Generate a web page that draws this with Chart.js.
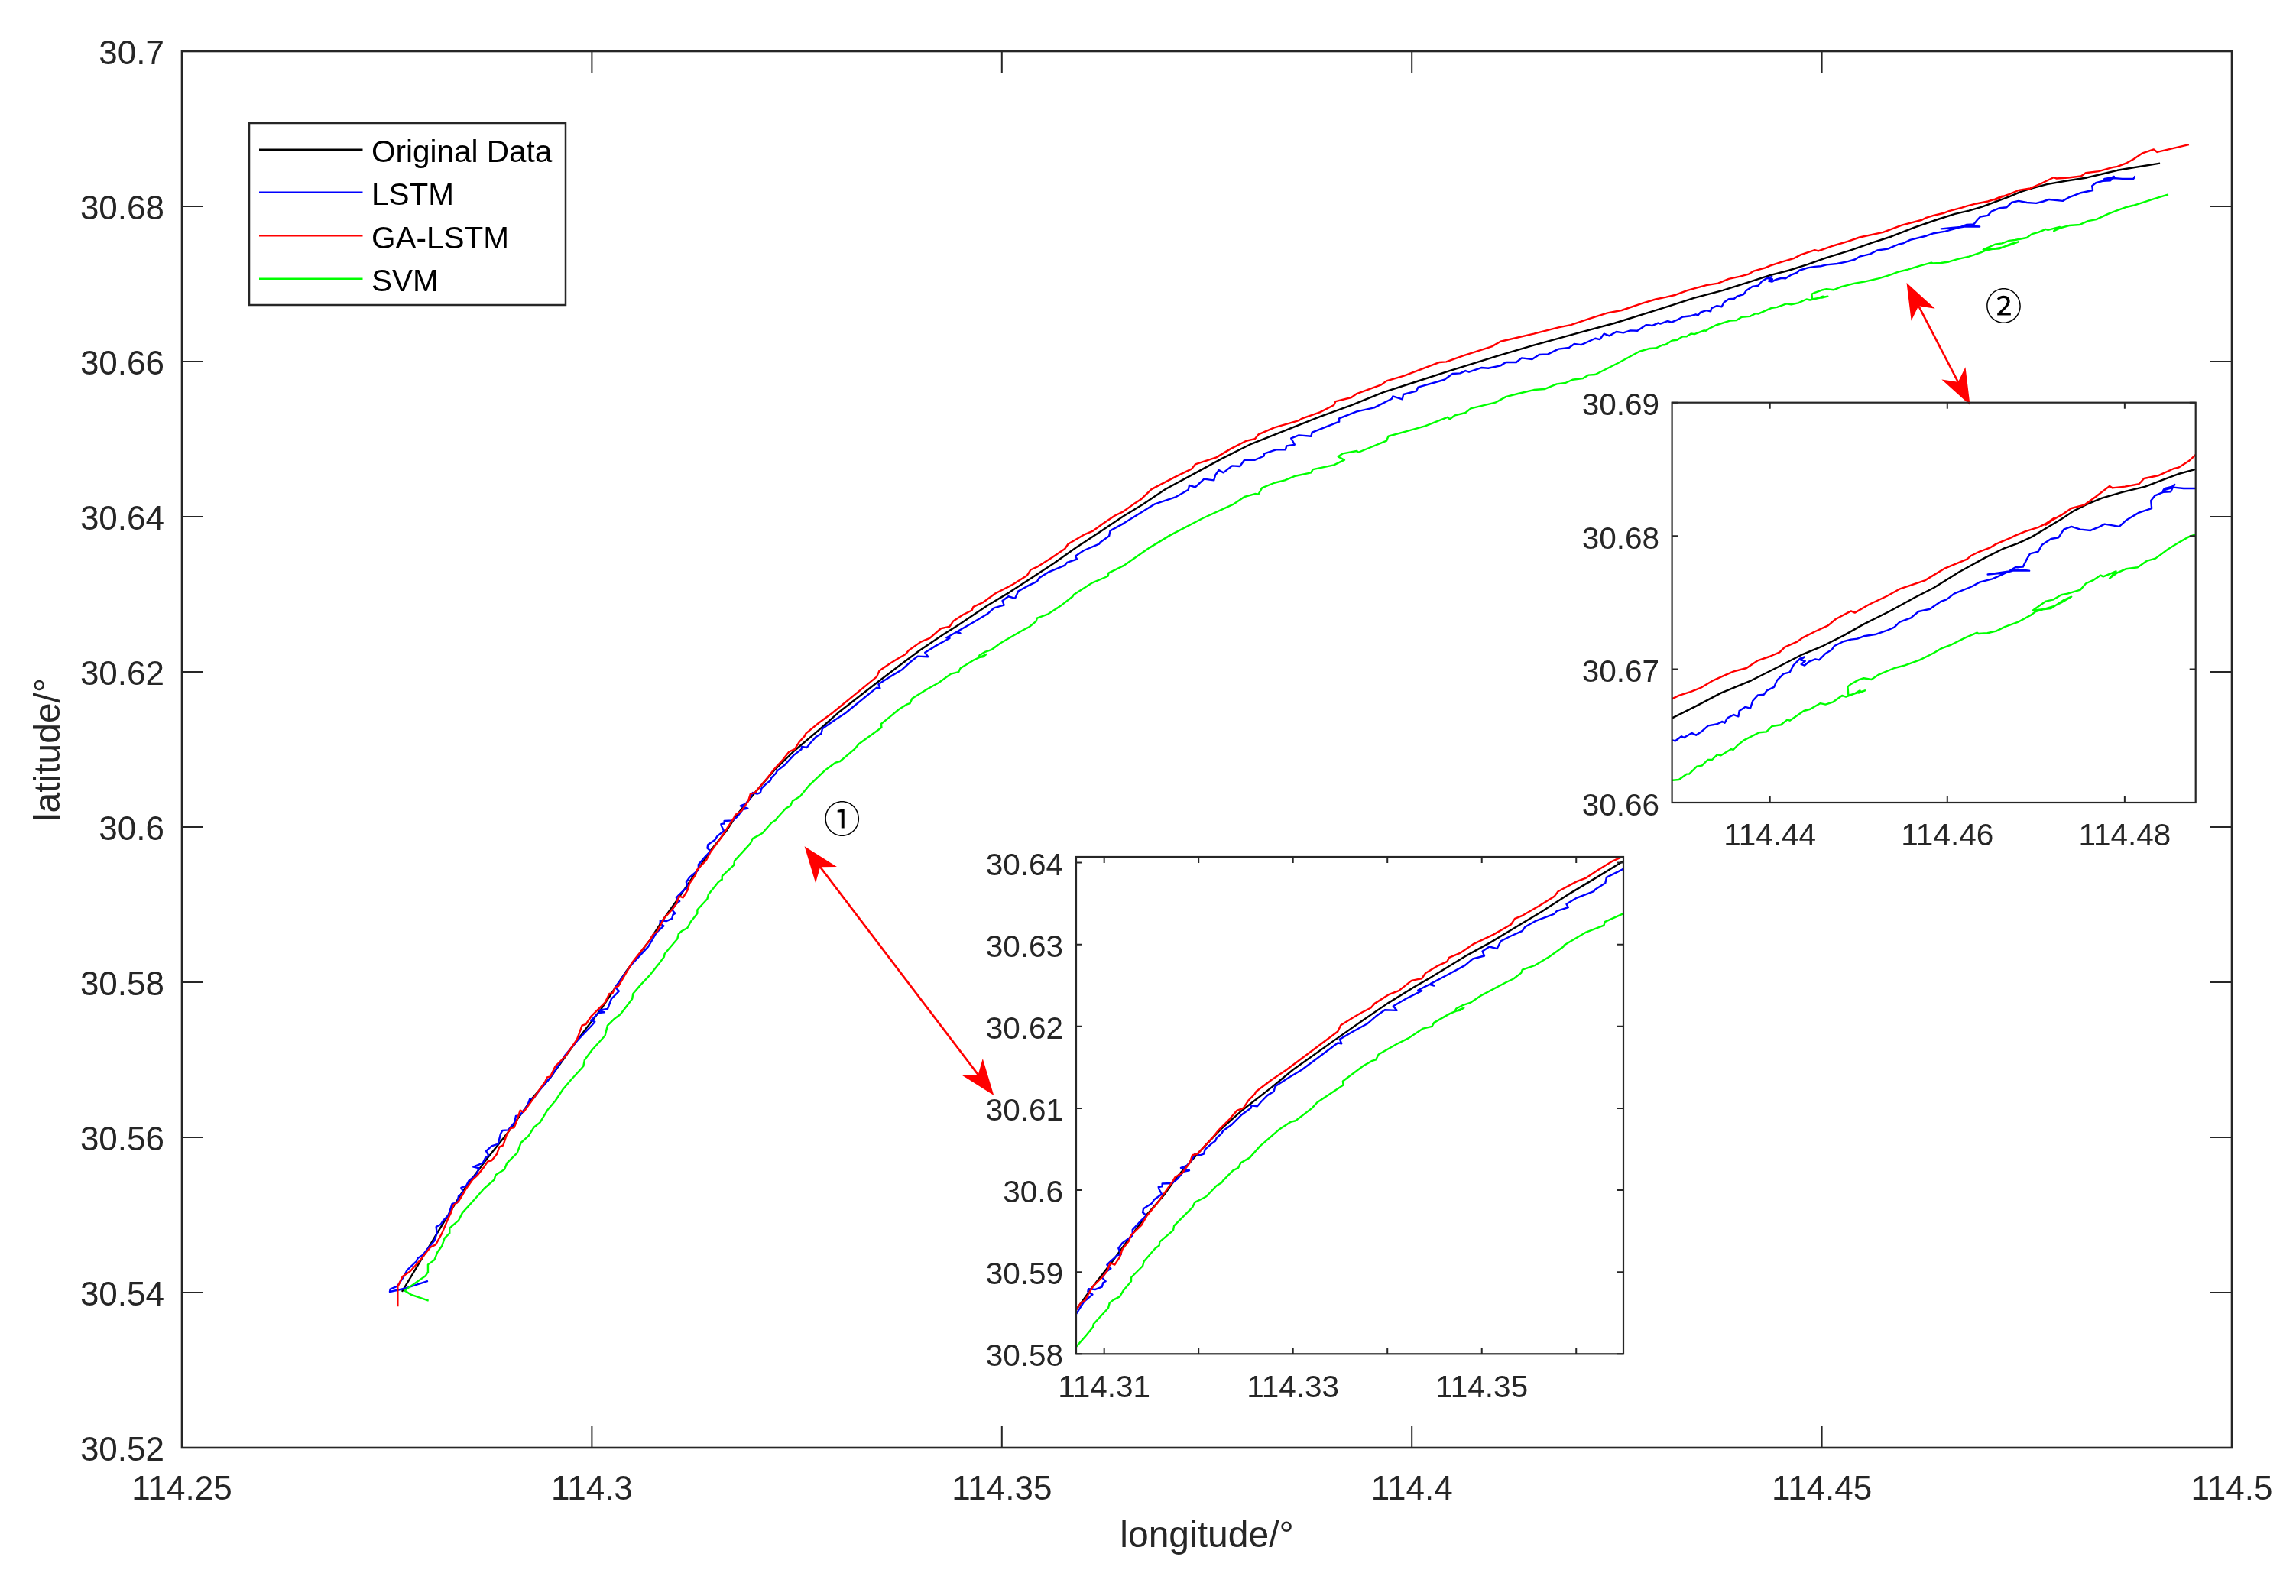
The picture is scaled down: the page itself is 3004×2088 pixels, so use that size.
<!DOCTYPE html>
<html><head><meta charset="utf-8">
<style>html,body{margin:0;padding:0;background:#fff;width:3004px;height:2088px;overflow:hidden}
canvas{position:absolute;display:block}</style>
<script src="https://cdn.jsdelivr.net/npm/chart.js@4/dist/chart.umd.min.js"></script>
</head><body>
<canvas id="main" style="left:0;top:0;z-index:1"></canvas>
<canvas id="inset1" style="z-index:2"></canvas>
<canvas id="inset2" style="z-index:3"></canvas>
<script>
const seriesNames=["Original Data","LSTM","GA-LSTM","SVM"];
const seriesColors=["#000000","#0000ff","#ff0000","#00ff00"];
const mainXTicks=[114.25,114.3,114.35,114.4,114.45,114.5];
const mainXLabels=["114.25","114.3","114.35","114.4","114.45","114.5"];
const mainYTicks=[30.52,30.54,30.56,30.58,30.6,30.62,30.64,30.66,30.68,30.7];
const mainYLabels=["30.52","30.54","30.56","30.58","30.6","30.62","30.64","30.66","30.68","30.7"];
const inset1XTicks=[114.31,114.32,114.33,114.34,114.35,114.36];
const inset1XLabels=["114.31","","114.33","","114.35",""];
const inset1YTicks=[30.58,30.59,30.6,30.61,30.62,30.63,30.64];
const inset1YLabels=["30.58","30.59","30.6","30.61","30.62","30.63","30.64"];
const inset2XTicks=[114.44,114.46,114.48];
const inset2XLabels=["114.44","114.46","114.48"];
const inset2YTicks=[30.66,30.67,30.68,30.69];
const inset2YLabels=["30.66","30.67","30.68","30.69"];
const arrow1=[[114.32593,30.59751],[114.34902,30.56542]];
const arrow2=[[114.46034,30.67015],[114.46808,30.65438]];
const mark1=[114.33052,30.60108];
const mark2=[114.47218,30.66719];

const originalData=[[114.27684,30.5401],[114.28094,30.54732],[114.28436,30.55323],[114.28716,30.55718],[114.28964,30.56046],[114.29275,30.56506],[114.29492,30.56768],[114.29803,30.57228],[114.30113,30.57655],[114.30424,30.58148],[114.30703,30.58538],[114.30881,30.58825],[114.3107,30.59105],[114.31259,30.594],[114.31448,30.59696],[114.31637,30.59945],[114.31772,30.60163],[114.32001,30.60459],[114.32231,30.60739],[114.32474,30.60988],[114.3277,30.61252],[114.33,30.6147],[114.33474,30.61859],[114.33744,30.62077],[114.34,30.62279],[114.34283,30.62481],[114.34472,30.62606],[114.34823,30.62855],[114.35093,30.63026],[114.35363,30.63213],[114.35633,30.634],[114.35903,30.63602],[114.36173,30.63789],[114.36483,30.64007],[114.36717,30.64157],[114.36995,30.64354],[114.37338,30.64551],[114.3768,30.64748],[114.38022,30.64929],[114.3845,30.6511],[114.38878,30.6529],[114.39263,30.65438],[114.39648,30.65602],[114.40034,30.65734],[114.40461,30.65881],[114.41061,30.66078],[114.41488,30.6621],[114.42045,30.66374],[114.42473,30.66495],[114.42902,30.66636],[114.43161,30.66722],[114.43448,30.66822],[114.43793,30.66917],[114.4408,30.67013],[114.44368,30.67112],[114.44598,30.67175],[114.44828,30.67252],[114.45057,30.67338],[114.45345,30.67433],[114.45632,30.67538],[114.45847,30.67611],[114.46134,30.6773],[114.46422,30.67835],[114.46623,30.67902],[114.46795,30.67944],[114.46953,30.67993],[114.4714,30.68068],[114.47284,30.68125],[114.47427,30.68188],[114.47571,30.68236],[114.47744,30.68284],[114.47973,30.68328],[114.48232,30.6837],[114.48433,30.68421],[114.48606,30.68465],[114.48801,30.685],[114.49125,30.68555]];

const lstmData=[[114.28001,30.54148],[114.27706,30.54049],[114.27535,30.5401],[114.27541,30.54043],[114.27628,30.54082],[114.27706,30.54207],[114.27747,30.54289],[114.27861,30.54404],[114.27877,30.54443],[114.27939,30.54486],[114.28001,30.54568],[114.28079,30.54667],[114.2811,30.54765],[114.28101,30.54847],[114.28157,30.5488],[114.28188,30.54929],[114.2825,30.54995],[114.28296,30.55143],[114.28359,30.55159],[114.28374,30.55241],[114.28436,30.55291],[114.28405,30.5535],[114.28467,30.55373],[114.28498,30.55438],[114.28592,30.55521],[114.28623,30.55603],[114.28554,30.55619],[114.28669,30.55668],[114.287,30.55734],[114.28741,30.55767],[114.2871,30.55823],[114.28778,30.55888],[114.28856,30.55915],[114.28887,30.56046],[114.28909,30.56089],[114.2898,30.56095],[114.29058,30.56194],[114.29073,30.56276],[114.2912,30.56282],[114.29213,30.56407],[114.29244,30.56499],[114.29291,30.56506],[114.29384,30.56637],[114.29492,30.56768],[114.29678,30.57064],[114.29834,30.57261],[114.30005,30.57451],[114.30036,30.57491],[114.29989,30.57507],[114.30082,30.57606],[114.30154,30.57612],[114.30082,30.57639],[114.30191,30.57655],[114.30238,30.57786],[114.30331,30.57885],[114.30284,30.57934],[114.30486,30.5823],[114.30688,30.5846],[114.30787,30.58638],[114.30876,30.58725],[114.30827,30.58762],[114.30833,30.58794],[114.30908,30.58787],[114.30976,30.58818],[114.30989,30.58871],[114.31016,30.58887],[114.30976,30.58934],[114.3103,30.59011],[114.3107,30.59043],[114.3103,30.59089],[114.31057,30.5912],[114.31138,30.59204],[114.31178,30.59214],[114.31151,30.59291],[114.31192,30.59354],[114.31265,30.59416],[114.313,30.59447],[114.313,30.59516],[114.31381,30.59618],[114.31448,30.5969],[114.31408,30.59727],[114.31416,30.59774],[114.31502,30.59836],[114.31529,30.59883],[114.3161,30.59951],[114.31583,30.60007],[114.31575,30.60038],[114.3161,30.60045],[114.31615,30.60079],[114.31718,30.60085],[114.31772,30.60132],[114.31839,30.60225],[114.31901,30.60241],[114.31812,30.60272],[114.3188,30.60303],[114.31934,30.60381],[114.31961,30.60443],[114.32015,30.60427],[114.32055,30.60443],[114.32069,30.60499],[114.32136,30.60567],[114.32177,30.60599],[114.3219,30.60636],[114.32244,30.60692],[114.32258,30.60723],[114.32352,30.60801],[114.3246,30.60925],[114.32555,30.61003],[114.3256,30.61034],[114.32622,30.61025],[114.32663,30.61081],[114.3273,30.61159],[114.32797,30.61205],[114.32811,30.61268],[114.32959,30.61377],[114.33094,30.6147],[114.33474,30.61797],[114.33514,30.6179],[114.33495,30.61843],[114.33636,30.61937],[114.33784,30.6203],[114.33879,30.62123],[114.33973,30.62201],[114.341,30.62195],[114.34062,30.62248],[114.34202,30.62341],[114.34337,30.62419],[114.34364,30.62435],[114.34324,30.62441],[114.34445,30.62512],[114.34494,30.62497],[114.34459,30.62522],[114.34634,30.62628],[114.34823,30.62746],[114.34904,30.62824],[114.35026,30.62861],[114.35007,30.62917],[114.3508,30.62973],[114.35161,30.62948],[114.35201,30.63041],[114.35309,30.63104],[114.3543,30.63166],[114.35457,30.63213],[114.35565,30.63284],[114.35768,30.63374],[114.35795,30.63409],[114.35916,30.63452],[114.35897,30.63493],[114.35997,30.63564],[114.36186,30.63648],[114.362,30.6367],[114.36308,30.63751],[114.36321,30.63819],[114.36483,30.63913],[114.36867,30.64164],[114.37124,30.64256],[114.37274,30.64348],[114.37286,30.64404],[114.37359,30.64381],[114.37466,30.64486],[114.37586,30.64469],[114.37603,30.64535],[114.37646,30.64601],[114.37702,30.64568],[114.37808,30.64656],[114.37903,30.6465],[114.37958,30.64732],[114.38087,30.64732],[114.38194,30.64781],[114.38202,30.64814],[114.38343,30.64863],[114.38459,30.64863],[114.38472,30.64913],[114.3857,30.64929],[114.38527,30.65011],[114.38622,30.65051],[114.38771,30.65037],[114.38784,30.65087],[114.39114,30.65225],[114.39114,30.65267],[114.39328,30.65356],[114.39541,30.65405],[114.39755,30.6552],[114.39768,30.65553],[114.39884,30.65514],[114.39897,30.65576],[114.40055,30.65619],[114.40076,30.65668],[114.40397,30.65766],[114.40496,30.65842],[114.4059,30.65849],[114.40654,30.65881],[114.40697,30.65865],[114.40847,30.65921],[114.40932,30.65914],[114.41082,30.65947],[114.41146,30.6599],[114.41274,30.6599],[114.41339,30.66046],[114.41467,30.66029],[114.41553,30.66088],[114.4166,30.66095],[114.41788,30.66161],[114.41916,30.66177],[114.41981,30.66226],[114.42066,30.66216],[114.42237,30.66298],[114.42293,30.66285],[114.42344,30.66358],[114.42408,30.66331],[114.42494,30.66384],[114.4258,30.66371],[114.42665,30.664],[114.42751,30.66397],[114.42858,30.66472],[114.42902,30.66468],[114.42931,30.66462],[114.43003,30.66497],[114.43031,30.66487],[114.43118,30.66522],[114.43167,30.66506],[114.43233,30.66535],[114.43304,30.66577],[114.43405,30.66589],[114.43463,30.66608],[114.43491,30.66598],[114.4352,30.66634],[114.43592,30.66659],[114.43644,30.66646],[114.43655,30.66688],[114.43721,30.66717],[114.43779,30.66707],[114.43807,30.66764],[114.43865,30.66806],[114.43931,30.6681],[114.43966,30.66841],[114.44046,30.66866],[114.4408,30.66917],[114.44152,30.66965],[114.44224,30.66978],[114.44267,30.67032],[114.44339,30.6708],[114.44391,30.67093],[114.44345,30.6707],[114.44397,30.67061],[114.44353,30.67038],[114.44391,30.67028],[114.4444,30.67057],[114.44512,30.67076],[114.44555,30.6707],[114.44627,30.67118],[114.44698,30.67147],[114.44727,30.67175],[114.44828,30.67208],[114.44914,30.67223],[114.44986,30.67229],[114.45058,30.67248],[114.45187,30.67261],[114.45316,30.6729],[114.45403,30.67315],[114.4546,30.67353],[114.45589,30.67385],[114.45676,30.67433],[114.45805,30.67452],[114.45847,30.67472],[114.45933,30.6751],[114.45991,30.67523],[114.46077,30.67567],[114.46278,30.67621],[114.46364,30.67653],[114.46508,30.67678],[114.466,30.67705],[114.46709,30.67739],[114.46925,30.67739],[114.46795,30.67749],[114.46652,30.67724],[114.46456,30.67711],[114.46594,30.67724],[114.46695,30.67735],[114.46767,30.67764],[114.46853,30.67768],[114.46896,30.67825],[114.46933,30.67867],[114.47025,30.67883],[114.47068,30.67934],[114.47169,30.67978],[114.47255,30.67988],[114.47313,30.68049],[114.47399,30.6807],[114.475,30.68049],[114.47615,30.68041],[114.47701,30.68064],[114.47773,30.68089],[114.47939,30.6807],[114.48017,30.68118],[114.48161,30.68175],[114.48304,30.68207],[114.48296,30.68265],[114.48342,30.68303],[114.48434,30.68328],[114.4852,30.68332],[114.4854,30.6836],[114.48563,30.68385],[114.48534,30.6837],[114.48448,30.68355],[114.48434,30.68341],[114.48549,30.68364],[114.48664,30.68356],[114.48801,30.68356],[114.48821,30.68389]];

const gaLstmData=[[114.27632,30.53819],[114.27632,30.54076],[114.27691,30.54207],[114.27784,30.54273],[114.27908,30.5442],[114.28032,30.54585],[114.28095,30.54617],[114.28172,30.54765],[114.2825,30.54962],[114.28281,30.55028],[114.28312,30.55126],[114.28374,30.55176],[114.28421,30.55258],[114.28467,30.5534],[114.28545,30.55455],[114.28607,30.55514],[114.28685,30.55619],[114.28731,30.55691],[114.28778,30.55701],[114.2884,30.55783],[114.28871,30.55875],[114.28918,30.55898],[114.28964,30.56046],[114.29011,30.56118],[114.29052,30.56128],[114.29089,30.56227],[114.29126,30.56348],[114.29166,30.56325],[114.29291,30.56506],[114.29375,30.56637],[114.29431,30.56719],[114.29455,30.56775],[114.29493,30.56785],[114.29554,30.56916],[114.29678,30.57047],[114.29818,30.57261],[114.2988,30.57442],[114.29927,30.57458],[114.29989,30.57557],[114.3016,30.57737],[114.30213,30.57852],[114.30253,30.57859],[114.30284,30.57934],[114.30325,30.57951],[114.30486,30.58246],[114.30703,30.58538],[114.30752,30.58622],[114.30795,30.58654],[114.30881,30.58825],[114.30976,30.58934],[114.3103,30.59011],[114.31065,30.59111],[114.31111,30.59089],[114.31165,30.59183],[114.31192,30.59276],[114.31265,30.59385],[114.31281,30.59447],[114.31394,30.59572],[114.31448,30.5968],[114.31569,30.59852],[114.31731,30.60116],[114.3175,30.60157],[114.31826,30.6021],[114.31907,30.60334],[114.31934,30.60427],[114.31988,30.60443],[114.3215,30.60645],[114.32217,30.60739],[114.32325,30.60863],[114.32406,30.60972],[114.32474,30.61003],[114.32528,30.61096],[114.32595,30.61174],[114.32609,30.61205],[114.3277,30.61345],[114.32932,30.6147],[114.33474,30.61937],[114.33506,30.62015],[114.33636,30.62108],[114.3373,30.6217],[114.33825,30.62226],[114.33865,30.62279],[114.34013,30.62388],[114.34121,30.62435],[114.34256,30.62559],[114.34324,30.62575],[114.34364,30.62584],[114.34405,30.62652],[114.34526,30.62736],[114.34634,30.62793],[114.34653,30.62839],[114.34769,30.62895],[114.34918,30.6301],[114.3512,30.63119],[114.35309,30.63244],[114.3535,30.63315],[114.3543,30.63353],[114.35606,30.63471],[114.35768,30.63586],[114.35808,30.63648],[114.36011,30.63773],[114.36105,30.63813],[114.36227,30.63907],[114.36375,30.64012],[114.36483,30.64068],[114.3661,30.64164],[114.36696,30.64223],[114.36824,30.64354],[114.37124,30.64519],[114.37316,30.64617],[114.37359,30.64676],[114.37616,30.64765],[114.37787,30.64873],[114.3798,30.64978],[114.38087,30.65004],[114.38129,30.6506],[114.38322,30.65149],[114.38622,30.65241],[114.38664,30.65267],[114.38878,30.65346],[114.39049,30.65438],[114.39071,30.65487],[114.39263,30.65537],[114.39328,30.65586],[114.39627,30.65701],[114.39691,30.6575],[114.39905,30.65816],[114.40333,30.6599],[114.40419,30.65996],[114.40633,30.66078],[114.40975,30.66193],[114.41082,30.66259],[114.41488,30.66358],[114.41788,30.6644],[114.41938,30.66472],[114.42173,30.66555],[114.42387,30.66627],[114.42558,30.6666],[114.42815,30.66752],[114.42974,30.66803],[114.43103,30.66831],[114.43218,30.6686],[114.43362,30.66917],[114.43506,30.66959],[114.43592,30.66984],[114.43736,30.67009],[114.43865,30.67066],[114.43994,30.67095],[114.44109,30.67127],[114.44167,30.67166],[114.4431,30.67208],[114.44368,30.67236],[114.44512,30.67284],[114.44655,30.67328],[114.44741,30.67376],[114.44914,30.67437],[114.44957,30.67424],[114.45115,30.67485],[114.45316,30.67548],[114.4546,30.67601],[114.45747,30.67666],[114.45976,30.67758],[114.46221,30.67825],[114.46264,30.6785],[114.46364,30.67883],[114.46479,30.67911],[114.46551,30.6794],[114.46709,30.67984],[114.46767,30.68003],[114.46882,30.68035],[114.47025,30.68064],[114.47112,30.68093],[114.47198,30.68131],[114.47112,30.68083],[114.47198,30.68125],[114.47284,30.68156],[114.47399,30.68207],[114.47543,30.68232],[114.47672,30.68293],[114.4783,30.68374],[114.47859,30.6836],[114.48003,30.6837],[114.48161,30.68389],[114.48218,30.68431],[114.48376,30.68452],[114.48549,30.68504],[114.48606,30.68513],[114.48721,30.68561],[114.48801,30.68609],[114.48911,30.68686],[114.49048,30.68735],[114.4909,30.687],[114.49477,30.68797]];

const svmData=[[114.28008,30.53895],[114.27799,30.53971],[114.27715,30.54026],[114.2797,30.54214],[114.27995,30.54256],[114.28001,30.54361],[114.28079,30.5442],[114.28116,30.54519],[114.28172,30.54601],[114.28203,30.547],[114.28265,30.54765],[114.28265,30.54831],[114.28374,30.54929],[114.28421,30.55028],[114.28576,30.55209],[114.28685,30.5534],[114.28809,30.55455],[114.28825,30.55514],[114.28933,30.55586],[114.28964,30.55668],[114.29089,30.558],[114.29135,30.55931],[114.29229,30.5602],[114.29291,30.56128],[114.29368,30.56194],[114.29462,30.56358],[114.29555,30.56473],[114.29648,30.56621],[114.29741,30.56736],[114.29896,30.56916],[114.29911,30.56998],[114.30005,30.5713],[114.3016,30.5731],[114.30191,30.57442],[114.30269,30.57524],[114.30346,30.57583],[114.30492,30.57786],[114.30502,30.57852],[114.30595,30.57967],[114.30703,30.58087],[114.30814,30.58233],[114.30881,30.58327],[114.30887,30.58364],[114.31043,30.5856],[114.31057,30.58622],[114.31097,30.5866],[114.31165,30.587],[114.31205,30.58778],[114.31286,30.58887],[114.31286,30.58934],[114.31408,30.59074],[114.31421,30.5913],[114.31542,30.59291],[114.31583,30.59323],[114.31588,30.59369],[114.31731,30.59509],[114.3174,30.59565],[114.31934,30.59789],[114.31961,30.59852],[114.32042,30.59898],[114.32082,30.59923],[114.3219,30.60054],[114.32244,30.60091],[114.32258,30.60116],[114.32366,30.60241],[114.3242,30.60272],[114.32447,30.60334],[114.32541,30.60396],[114.32649,30.60536],[114.32852,30.60739],[114.32973,30.60832],[114.33027,30.60847],[114.33202,30.61003],[114.33256,30.61072],[114.33533,30.61283],[114.33528,30.6133],[114.33636,30.61423],[114.33744,30.61517],[114.33838,30.61579],[114.33879,30.61594],[114.33906,30.61657],[114.34094,30.61781],[114.34229,30.61859],[114.34378,30.61974],[114.34472,30.61999],[114.34494,30.62046],[114.34661,30.62155],[114.3481,30.62226],[114.34769,30.62195],[114.34715,30.62186],[114.34729,30.62217],[114.34796,30.62257],[114.34877,30.62288],[114.34985,30.62372],[114.35255,30.62537],[114.35336,30.62581],[114.35417,30.62652],[114.3543,30.62693],[114.35565,30.62746],[114.35714,30.62849],[114.35862,30.6297],[114.35876,30.62995],[114.36105,30.6315],[114.36294,30.63234],[114.36302,30.63275],[114.36483,30.63368],[114.368,30.636],[114.3705,30.6376],[114.3745,30.6398],[114.3783,30.64164],[114.37958,30.64256],[114.38087,30.64295],[114.38129,30.64289],[114.38172,30.64371],[114.38322,30.64436],[114.3845,30.64469],[114.38579,30.64525],[114.38771,30.64568],[114.38793,30.6461],[114.39049,30.64666],[114.39178,30.64732],[114.39101,30.64775],[114.39156,30.64814],[114.39328,30.64847],[114.39349,30.6483],[114.39691,30.64978],[114.39713,30.65037],[114.39905,30.65093],[114.40162,30.65169],[114.4044,30.65284],[114.40461,30.65257],[114.40526,30.65307],[114.40654,30.6534],[114.40718,30.65395],[114.41018,30.65471],[114.41146,30.65546],[114.41296,30.65586],[114.41488,30.65635],[114.41617,30.65645],[114.41767,30.65711],[114.41874,30.65724],[114.41959,30.65766],[114.42087,30.65783],[114.42152,30.65826],[114.42237,30.65832],[114.42515,30.6598],[114.42601,30.66029],[114.42772,30.66128],[114.42902,30.66168],[114.42974,30.66172],[114.4306,30.66214],[114.43089,30.66214],[114.43175,30.66271],[114.43233,30.66277],[114.43299,30.66321],[114.43348,30.66321],[114.43405,30.66359],[114.43448,30.66354],[114.43563,30.66401],[114.43586,30.66396],[114.43635,30.6643],[114.43707,30.66468],[114.43879,30.66526],[114.4396,30.66531],[114.44023,30.66573],[114.44124,30.66583],[114.44195,30.66621],[114.44224,30.66615],[114.44382,30.66688],[114.44454,30.66701],[114.44569,30.66745],[114.44627,30.66736],[114.44713,30.66755],[114.44813,30.66803],[114.44856,30.66793],[114.44957,30.66818],[114.45072,30.66841],[114.45,30.66822],[114.45015,30.66841],[114.44957,30.66818],[114.44885,30.66803],[114.44877,30.66869],[114.44914,30.66889],[114.45,30.66921],[114.45058,30.66933],[114.45144,30.66923],[114.4523,30.66961],[114.45403,30.67009],[114.45517,30.67028],[114.4569,30.6707],[114.45805,30.67108],[114.45847,30.67122],[114.45933,30.67156],[114.46048,30.67185],[114.46192,30.67233],[114.46336,30.67275],[114.4635,30.67267],[114.46451,30.67271],[114.46551,30.67286],[114.46652,30.67319],[114.46795,30.67353],[114.46939,30.67405],[114.46997,30.67433],[114.47198,30.67472],[114.47284,30.675],[114.47399,30.67544],[114.47313,30.67519],[114.47169,30.67456],[114.46997,30.67443],[114.46968,30.67443],[114.47112,30.6751],[114.47198,30.67523],[114.47284,30.67558],[114.47356,30.67567],[114.475,30.67596],[114.47563,30.67644],[114.47643,30.67667],[114.47729,30.67705],[114.47758,30.67695],[114.47902,30.67735],[114.4783,30.67682],[114.47916,30.67724],[114.48017,30.67753],[114.48146,30.67764],[114.48247,30.67812],[114.48347,30.67831],[114.48491,30.67902],[114.48606,30.67949],[114.48721,30.67993],[114.48801,30.68012],[114.4906,30.68099],[114.49226,30.68154]];

const allSeries=[originalData,lstmData,gaLstmData,svmData];
const INK="#262626", FONT="'Liberation Sans', Arial, sans-serif";
Chart.defaults.font.family=FONT;

function frameAndTicks(tickLen,boxW,tickW){return{id:'frameAndTicks',afterDatasetsDraw(c){
  const g=c.ctx,a=c.chartArea,xs=c.scales.x,ys=c.scales.y;
  g.save();g.strokeStyle=INK;g.lineWidth=tickW;g.beginPath();
  xs.ticks.forEach(t=>{const p=xs.getPixelForValue(t.value);g.moveTo(p,a.bottom);g.lineTo(p,a.bottom-tickLen);g.moveTo(p,a.top);g.lineTo(p,a.top+tickLen);});
  ys.ticks.forEach(t=>{const p=ys.getPixelForValue(t.value);g.moveTo(a.left,p);g.lineTo(a.left+tickLen,p);g.moveTo(a.right,p);g.lineTo(a.right-tickLen,p);});
  g.stroke();g.lineWidth=boxW;g.strokeRect(a.left,a.top,a.right-a.left,a.bottom-a.top);g.restore();
}};}

const legendPlugin={id:'boxLegend',afterDraw(c){
  const g=c.ctx;g.save();g.strokeStyle=INK;g.lineWidth=2.5;g.strokeRect(326,161,414,238);
  const ys=[195.7,251.7,308.3,364.7];
  seriesNames.forEach((n,i)=>{g.strokeStyle=seriesColors[i];g.lineWidth=2.6;g.beginPath();g.moveTo(339,ys[i]);g.lineTo(474.5,ys[i]);g.stroke();
    g.fillStyle="#000";g.font="40.5px "+FONT;g.textBaseline="alphabetic";g.textAlign="left";g.fillText(n,486,ys[i]+16.5);});
  g.restore();}};

function arrowHead(g,tx,ty,ux,uy){const L=47,N=34,W=17.5,vx=-uy,vy=ux;
  g.beginPath();g.moveTo(tx,ty);g.lineTo(tx+ux*L+vx*W,ty+uy*L+vy*W);g.lineTo(tx+ux*N,ty+uy*N);g.lineTo(tx+ux*L-vx*W,ty+uy*L-vy*W);g.closePath();g.fill();}
const arrowPlugin={id:'arrows',afterDraw(c){
  const g=c.ctx,xs=c.scales.x,ys=c.scales.y;g.save();g.strokeStyle="#ff0000";g.fillStyle="#ff0000";g.lineWidth=2.6;
  [arrow1,arrow2].forEach(a=>{const p=a.map(([x,y])=>[xs.getPixelForValue(x),ys.getPixelForValue(y)]);
    const dx=p[1][0]-p[0][0],dy=p[1][1]-p[0][1],d=Math.hypot(dx,dy),ux=dx/d,uy=dy/d;
    g.beginPath();g.moveTo(p[0][0]+ux*30,p[0][1]+uy*30);g.lineTo(p[1][0]-ux*30,p[1][1]-uy*30);g.stroke();
    arrowHead(g,p[0][0],p[0][1],ux,uy);arrowHead(g,p[1][0],p[1][1],-ux,-uy);});
  g.fillStyle="#000";g.font="48px 'Noto Sans CJK SC'";g.textAlign="center";g.textBaseline="middle";
  g.fillText("①",xs.getPixelForValue(mark1[0]),ys.getPixelForValue(mark1[1]));
  g.fillText("②",xs.getPixelForValue(mark2[0]),ys.getPixelForValue(mark2[1]));
  g.restore();}};

function makeChart(id,cv,pl,cfg){
  const el=document.getElementById(id);el.width=cv.w;el.height=cv.h;el.style.left=cv.x+"px";el.style.top=cv.y+"px";el.style.width=cv.w+"px";el.style.height=cv.h+"px";
  return new Chart(el,{type:'scatter',
    data:{datasets:allSeries.map((s,i)=>({label:seriesNames[i],data:s.map(([x,y])=>({x,y})),showLine:true,pointRadius:0,pointHoverRadius:0,
      borderColor:seriesColors[i],backgroundColor:seriesColors[i],borderWidth:cfg.lw,borderJoinStyle:'round',fill:false,tension:0,order:4-i}))},
    options:{responsive:false,animation:false,devicePixelRatio:1,events:[],
      layout:{padding:{left:0,top:pl.top-cv.y,right:cv.x+cv.w-pl.right,bottom:0}},
      plugins:{legend:{display:false},title:{display:false},tooltip:{enabled:false}},
      scales:{
        x:{type:'linear',min:cfg.xMin,max:cfg.xMax,grid:{display:false,drawTicks:false},border:{display:false},
          afterBuildTicks(s){s.ticks=cfg.xTicks.map(v=>({value:v}));},
          afterFit(s){s.height=cv.y+cv.h-pl.bottom;s.paddingLeft=0;s.paddingRight=0;},
          ticks:{autoSkip:false,maxRotation:0,minRotation:0,padding:cfg.xPad,color:INK,font:{size:cfg.fs,family:FONT},
            callback:(v,i)=>cfg.xLabels[i]},
          title:cfg.xTitle?{display:true,text:cfg.xTitle,color:INK,font:{size:48,family:FONT},padding:{top:0,bottom:48}}:{display:false}},
        y:{type:'linear',min:cfg.yMin,max:cfg.yMax,grid:{display:false,drawTicks:false},border:{display:false},
          afterBuildTicks(s){s.ticks=cfg.yTicks.map(v=>({value:v}));},
          afterFit(s){s.width=pl.left-cv.x;s.paddingTop=0;s.paddingBottom=0;},
          ticks:{autoSkip:false,padding:cfg.yPad,labelOffset:cfg.yOff,color:INK,font:{size:cfg.fs,family:FONT},callback:(v,i)=>cfg.yLabels[i]},
          title:cfg.yTitle?{display:true,text:cfg.yTitle,color:INK,font:{size:48,family:FONT},padding:{top:36,bottom:0}}:{display:false}}
      }},
    plugins:[frameAndTicks(cfg.tl,cfg.bw,cfg.tw)].concat(cfg.extra||[])});
}

makeChart('main',{x:0,y:0,w:3004,h:2088},{left:238,top:67,right:2920,bottom:1894},
 {lw:2.4,fs:44,xMin:114.25,xMax:114.5,yMin:30.52,yMax:30.7,xTicks:mainXTicks,xLabels:mainXLabels,yTicks:mainYTicks,yLabels:mainYLabels,
  xPad:29,yPad:23,yOff:4.5,tl:28,bw:2.6,tw:2,xTitle:"longitude/°",yTitle:"latitude/°",extra:[arrowPlugin,legendPlugin]});
makeChart('inset1',{x:1270,y:1100,w:870,h:760},{left:1408,top:1121,right:2124,bottom:1771.3},
 {lw:2.4,fs:40.5,xMin:114.30703,xMax:114.365,yMin:30.58,yMax:30.6407,xTicks:inset1XTicks,xLabels:inset1XLabels,yTicks:inset1YTicks,yLabels:inset1YLabels,
  xPad:21.5,yPad:17,yOff:5,tl:8,bw:2.2,tw:2});
makeChart('inset2',{x:2040,y:510,w:860,h:620},{left:2187.6,top:526.7,right:2872.7,bottom:1050},
 {lw:2.4,fs:40.5,xMin:114.42896,xMax:114.488,yMin:30.66,yMax:30.69,xTicks:inset2XTicks,xLabels:inset2XLabels,yTicks:inset2YTicks,yLabels:inset2YLabels,
  xPad:20.5,yPad:16.6,yOff:5.5,tl:8,bw:2.2,tw:2});
</script>
</body></html>
